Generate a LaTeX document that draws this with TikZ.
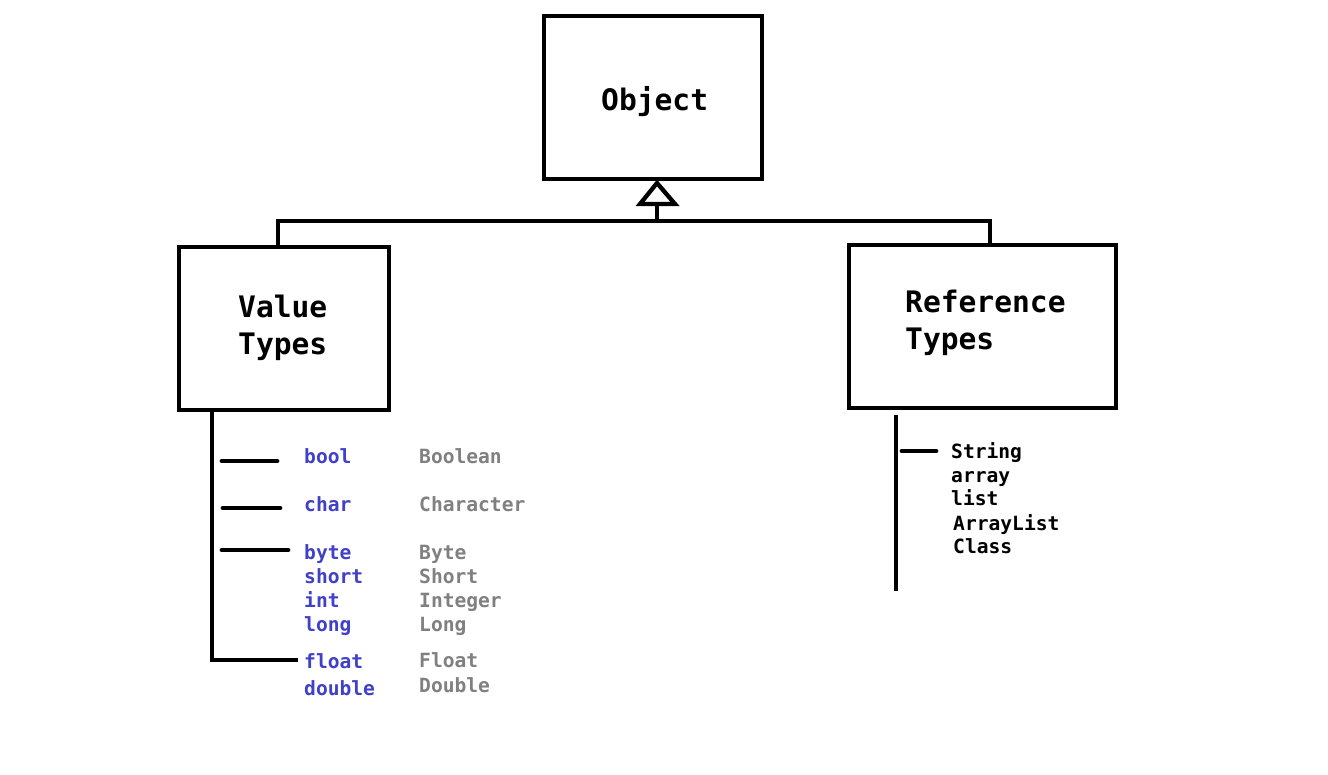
\documentclass[tikz,border=0pt]{standalone}
\usepackage{fontspec}
\newfontfamily\mono{DejaVu Sans Mono}
\definecolor{kw}{RGB}{64,64,200}
\definecolor{cls}{RGB}{128,128,128}
\begin{document}
\begin{tikzpicture}[x=1pt,y=-1pt,
  box/.style={draw,line width=4.3pt,minimum width=#1,minimum height=163pt,inner sep=0pt},
  head/.style={anchor=base west,inner sep=0pt,font=\mono\bfseries\fontsize{29.6}{37}\selectfont},
  kwt/.style={anchor=base west,inner sep=0pt,text=kw,font=\mono\bfseries\fontsize{19.6}{24}\selectfont},
  clt/.style={anchor=base west,inner sep=0pt,text=cls,font=\mono\bfseries\fontsize{19.6}{24}\selectfont},
  rft/.style={anchor=base west,inner sep=0pt,text=black,font=\mono\bfseries\fontsize{19.6}{24}\selectfont},
  wire/.style={line width=4.3pt},
  tick/.style={line width=4.8pt,line cap=round}]
\useasboundingbox (0,0) rectangle (1328,774);
\fill[white] (0,0) rectangle (1328,774);
% boxes
\node[box=218pt] (obj) at (653,97.5) {};
\node[box=210pt] (val) at (284,328.5) {};
\node[box=267pt] (ref) at (982.5,326.5) {};
\node[head] (objt) at (601,110) {Object};
\node[head] (valt1) at (238,317) {Value};
\node[head] (valt2) at (238,354) {Types};
\node[head] (reft1) at (905,312) {Reference};
\node[head] (reft2) at (905,349) {Types};
% inheritance
\coordinate (apex) at (657,183);
\coordinate (tb) at (657,204);
\coordinate (j) at (657,221);
\draw[wire,line join=miter] (640,204) -- (apex) -- (675,204) -- cycle;
\draw[wire] (tb) -- (j);
\draw[wire] ([xshift=-6pt]val.north) |- (j) -| ([xshift=7.5pt]ref.north);
% value types list
\coordinate (vtop) at (212,412);
\coordinate (vbot) at (212,660);
\draw[wire] (vtop) -- (vbot) -- (298,660);
\draw[tick] (222,461) -- (277,461);
\draw[tick] (223,508) -- (280,508);
\draw[tick] (222,550) -- (288,550);
\node[kwt] (k1) at (304,463) {bool};
\node[kwt] (k2) at (304,511) {char};
\node[kwt] (k3) at (304,559) {byte};
\node[kwt] (k4) at (304,583) {short};
\node[kwt] (k5) at (304,607) {int};
\node[kwt] (k6) at (304,631) {long};
\node[kwt] (k7) at (304,668) {float};
\node[kwt] (k8) at (304,695) {double};
\node[clt] (c1) at (419,463) {Boolean};
\node[clt] (c2) at (419,511) {Character};
\node[clt] (c3) at (419,559) {Byte};
\node[clt] (c4) at (419,583) {Short};
\node[clt] (c5) at (419,607) {Integer};
\node[clt] (c6) at (419,631) {Long};
\node[clt] (c7) at (419,667) {Float};
\node[clt] (c8) at (419,692) {Double};
% reference types list
\coordinate (rtop) at (896,415);
\coordinate (rbot) at (896,591);
\draw[wire] (rtop) -- (rbot);
\draw[tick] (902,451) -- (936,451);
\node[rft] (r1) at (951,458) {String};
\node[rft] (r2) at (951,482) {array};
\node[rft] (r3) at (951,505) {list};
\node[rft] (r4) at (953,530) {ArrayList};
\node[rft] (r5) at (953,553) {Class};
\end{tikzpicture}
\end{document}
